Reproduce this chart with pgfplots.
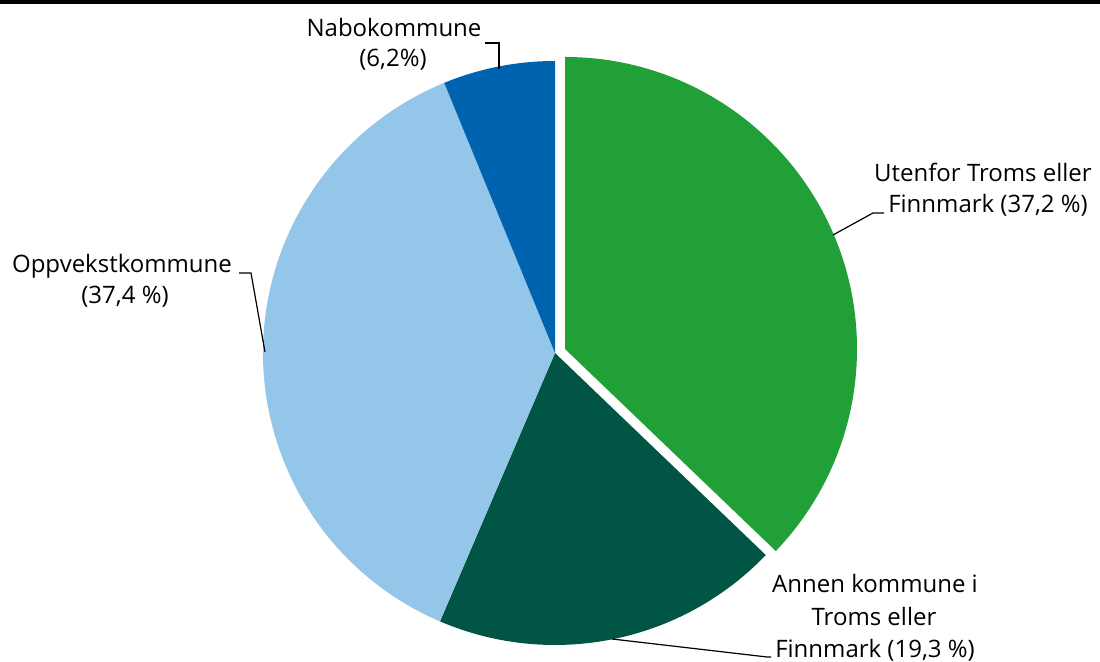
\documentclass[border=0pt]{standalone}
\usepackage{pgfplots}
\pgfplotsset{compat=1.18}
\usepackage{fontspec}
\setmainfont{Open Sans}
\definecolor{cGreen}{RGB}{33,160,56}
\definecolor{cDark}{RGB}{0,85,69}
\definecolor{cLight}{RGB}{148,198,234}
\definecolor{cBlue}{RGB}{0,99,175}
% shares (per cent), clockwise from 12 o'clock
\def\vUtenfor{37.2}
\def\vAnnen{19.3}
\def\vOppvekst{37.4}
\def\vNabo{6.2}
\begin{document}
\begin{tikzpicture}
\pgfmathsetmacro\tot{\vUtenfor+\vAnnen+\vOppvekst+\vNabo}
\pgfmathsetmacro\aA{90}
\pgfmathsetmacro\aB{\aA-360*\vUtenfor/\tot}
\pgfmathsetmacro\aC{\aB-360*\vAnnen/\tot}
\pgfmathsetmacro\aD{\aC-360*\vOppvekst/\tot}
\pgfmathsetmacro\aE{\aD-360*\vNabo/\tot}
\begin{axis}[scale only axis, width=550pt, height=331pt,
  xmin=0, xmax=1100, ymin=0, ymax=662, hide axis, clip=false]
\addplot[draw=none] coordinates {(0,0) (1100,662)};
% top rule
\draw[line width=2pt, black] (axis cs:0,660) -- (axis cs:1100,660);
% wedges (radius 292 px = 146pt)
\fill[cDark] (axis cs:555,309) -- ++(\aB:146pt) arc[start angle=\aB, end angle=\aC, radius=146pt] -- cycle;
\fill[cLight] (axis cs:555,309) -- ++(\aC:146pt) arc[start angle=\aC, end angle=\aD, radius=146pt] -- cycle;
\fill[cBlue] (axis cs:555,309) -- ++(\aD:146pt) arc[start angle=\aD, end angle=\aE, radius=146pt] -- cycle;
\fill[cGreen] (axis cs:565,313) -- ++(\aA:146pt) arc[start angle=\aA, end angle=\aB, radius=146pt] -- cycle;
% leader lines
\draw[line width=0.6pt] (axis cs:485,619) -- (axis cs:499,619) -- (axis cs:499,593);
\draw[line width=0.6pt] (axis cs:833,427) -- (axis cs:873,449) -- (axis cs:884,449);
\draw[line width=0.6pt] (axis cs:239,389) -- (axis cs:251,389) -- (axis cs:265,310);
\draw[line width=0.6pt] (axis cs:612,23) -- (axis cs:767,5) -- (axis cs:771,5);
% labels
\tikzset{lab/.style={anchor=base, inner sep=0pt, font=\fontsize{12}{15.75}\selectfont}}
\node[lab] at (axis cs:394,625) {Nabokommune};
\node[lab] at (axis cs:393,595) {(6,2\%)};
\node[lab] at (axis cs:983,480) {Utenfor Troms eller};
\node[lab] at (axis cs:988,449) {Finnmark (37,2 \%)};
\node[lab] at (axis cs:122,389) {Oppvekstkommune};
\node[lab] at (axis cs:125,358) {(37,4 \%)};
\node[lab] at (axis cs:875,69) {Annen kommune i};
\node[lab] at (axis cs:874,36) {Troms eller};
\node[lab] at (axis cs:875,4) {Finnmark (19,3 \%)};
\end{axis}
\pgfresetboundingbox
\path[use as bounding box] (0,0) rectangle (550pt,331pt);
\end{tikzpicture}
\end{document}
